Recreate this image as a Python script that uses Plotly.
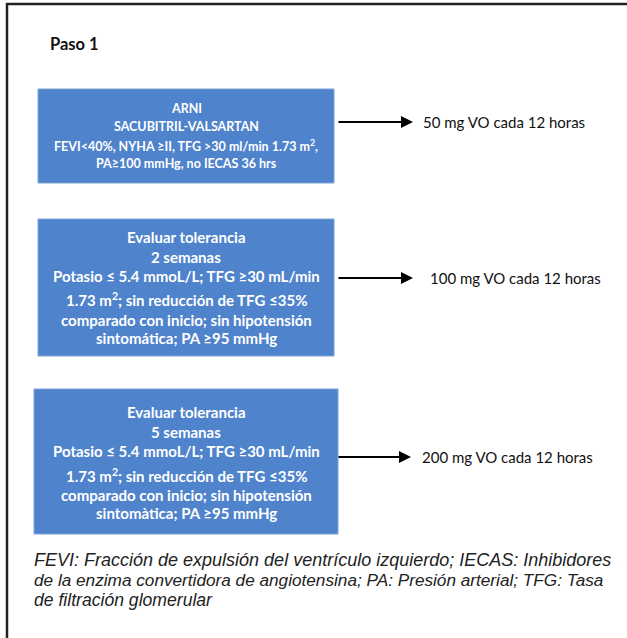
import plotly.graph_objects as go

# ---- content ----
title_text = "Paso 1"
box1_lines = ["ARNI", "SACUBITRIL-VALSARTAN",
              "FEVI&lt;40%, NYHA ≥II, TFG &gt;30 ml/min 1.73 m<sup>2</sup>,",
              "PA≥100 mmHg, no IECAS 36 hrs"]
box2_lines = ["Evaluar tolerancia", "2 semanas",
              "Potasio ≤ 5.4 mmoL/L; TFG ≥30 mL/min",
              "1.73 m<sup>2</sup>; sin reducción de TFG ≤35%",
              "comparado con inicio; sin hipotensión",
              "sintomática; PA ≥95 mmHg"]
box3_lines = ["Evaluar tolerancia", "5 semanas",
              "Potasio ≤ 5.4 mmoL/L; TFG ≥30 mL/min",
              "1.73 m<sup>2</sup>; sin reducción de TFG ≤35%",
              "comparado con inicio; sin hipotensión",
              "sintomàtica; PA ≥95 mmHg"]
dose_labels = ["50 mg VO cada 12 horas", "100 mg VO cada 12 horas", "200 mg VO cada 12 horas"]
footer_lines = ["FEVI: Fracción de expulsión del ventrículo izquierdo; IECAS: Inhibidores",
                "de la enzima convertidora de angiotensina; PA: Presión arterial; TFG: Tasa",
                "de filtración glomerular"]

# ---- layout geometry (pixels) ----
W, H = 627, 638
BLUE = "#4F83CC"
boxes = [
    dict(x0=38, x1=334, y0=89, y1=183, lines=box1_lines, ys=[108, 126, 145, 163], size=12.5),
    dict(x0=38, x1=334, y0=219, y1=356, lines=box2_lines, ys=[237, 257, 276, 299, 320, 338], size=15),
    dict(x0=34, x1=338, y0=389, y1=534, lines=box3_lines, ys=[412, 432, 451, 475, 495, 513], size=15),
]
arrows = [dict(x0=337, x1=413, y=122, tx=421), dict(x0=337, x1=413, y=278, tx=428),
          dict(x0=337, x1=411, y=457, tx=420)]
footer_ys = [560, 580, 600]
footer_sizes = [18, 17.2, 17.6]

fig = go.Figure()
shapes = [dict(type="rect", xref="x", yref="y", x0=7, y0=4, x1=W + 10, y1=H + 10,
               line=dict(color="#222222", width=2.5), fillcolor="rgba(0,0,0,0)")]
annotations = [dict(x=48, y=44, xref="x", yref="y", text=f"<b>{title_text}</b>", showarrow=False,
                    xanchor="left", yanchor="middle",
                    font=dict(family="Lato", size=16.5, color="#111111"))]
for b in boxes:
    shapes.append(dict(type="rect", xref="x", yref="y", x0=b["x0"], x1=b["x1"], y0=b["y0"], y1=b["y1"],
                       line=dict(color="#7FA3D8", width=1), fillcolor=BLUE))
    cx = (b["x0"] + b["x1"]) / 2
    for t, yy in zip(b["lines"], b["ys"]):
        annotations.append(dict(x=cx, y=yy, xref="x", yref="y", text=f"<b>{t}</b>", showarrow=False,
                                xanchor="center", yanchor="middle",
                                font=dict(family="Lato", size=b["size"], color="white")))
for a, lab in zip(arrows, dose_labels):
    annotations.append(dict(x=a["x1"], y=a["y"], ax=a["x0"], ay=a["y"], xref="x", yref="y",
                            axref="x", ayref="y", text="", showarrow=True, arrowhead=2,
                            arrowsize=1.2, arrowwidth=2, arrowcolor="black"))
    annotations.append(dict(x=a["tx"], y=a["y"], xref="x", yref="y", text=lab, showarrow=False,
                            xanchor="left", yanchor="middle",
                            font=dict(family="Lato", size=15, color="#111111")))
for t, yy, fs in zip(footer_lines, footer_ys, footer_sizes):
    annotations.append(dict(x=33, y=yy, xref="x", yref="y", text=f"<i>{t}</i>", showarrow=False,
                            xanchor="left", yanchor="middle", height=20, borderpad=0,
                            font=dict(family="Liberation Sans", size=fs, color="#222222")))

fig.update_layout(width=W, height=H, margin=dict(l=0, r=0, t=0, b=0),
                  paper_bgcolor="white", plot_bgcolor="white",
                  xaxis=dict(range=[0, W], visible=False, fixedrange=True),
                  yaxis=dict(range=[H, 0], visible=False, fixedrange=True),
                  shapes=shapes, annotations=annotations, showlegend=False)
fig.write_html("out.html", config={"displayModeBar": False},
               post_script="document.body.style.margin='0';document.body.style.overflow='hidden';")
